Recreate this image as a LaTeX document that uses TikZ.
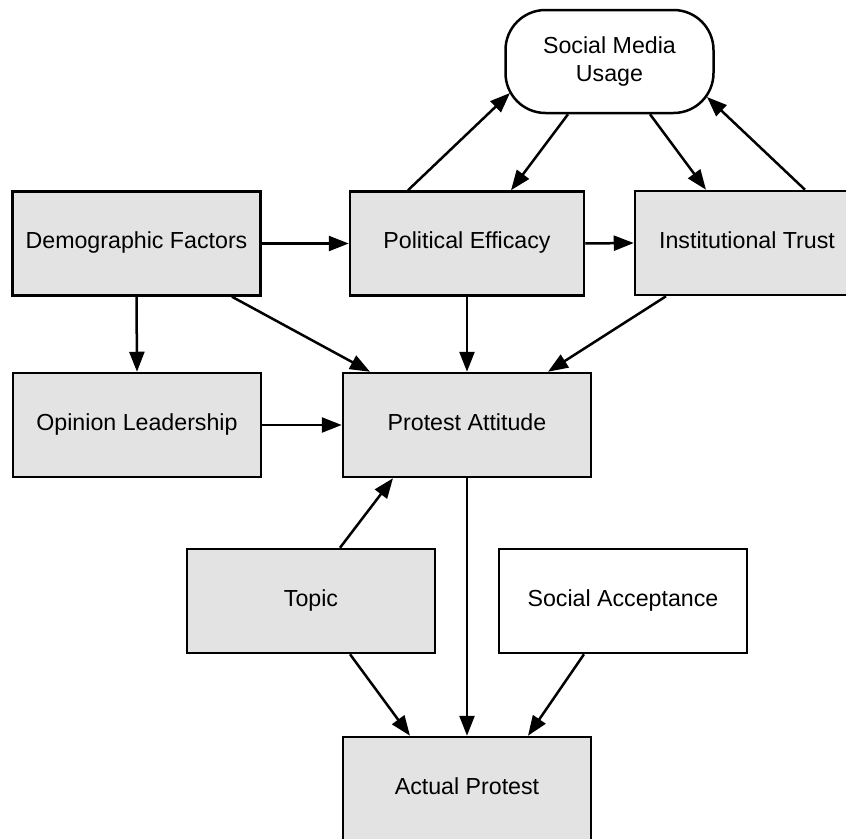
\documentclass[tikz,border=0pt]{standalone}
\usepackage{fontspec}
\setmainfont{Liberation Sans}
\usetikzlibrary{arrows.meta}
\begin{document}
\begin{tikzpicture}[x=1pt,y=-1pt,
  base/.style={draw=black,line width=2.5pt,inner sep=0pt,font=\fontsize{23.2}{28}\selectfont,align=center},
  box/.style={base,fill=black!11,minimum width=248pt,minimum height=104pt,text height=17pt,text depth=6.4pt},
  wbox/.style={box,fill=white},
  pill/.style={base,fill=white,rounded corners=40pt,minimum width=208pt,minimum height=103pt},
  arr/.style={line width=2.5pt,-{Triangle[length=20pt,width=15pt]}}]
\useasboundingbox (0,0) rectangle (846,838);
\clip (0,0) rectangle (846,838);
\node[pill] (smu) at (609.5,61.5) {Social Media\\Usage};
\node[box] (dem) at (136.5,243.5) {Demographic Factors};
\node[box,minimum width=234pt] (pe) at (467,243.5) {Political Efficacy};
\node[box,minimum width=224pt] (it) at (747,243) {Institutional Trust};
\node[box] (ol) at (137,425) {Opinion Leadership};
\node[box] (pa) at (467,425) {Protest Attitude};
\node[box] (tp) at (311,601) {Topic};
\node[wbox] (sa) at (623,601) {Social Acceptance};
\node[box] (ap) at (467,789) {Actual Protest};
% connectors
\draw[arr] (dem.east) -- (pe.west);
\draw[arr] (pe.east) -- (it.west);
\draw[arr] (dem.south) -- (ol.north);
\draw[arr] ([shift={(95.5,0)}]dem.south) -- ([shift={(-97,0)}]pa.north);
\draw[arr] (pe.south) -- (pa.north);
\draw[arr] ([shift={(-81,0)}]it.south) -- ([shift={(81,0)}]pa.north);
\draw[arr] (ol.east) -- (pa.west);
\draw[arr] ([shift={(29,0)}]tp.north) -- ([shift={(-74,0)}]pa.south);
\draw[arr] (pa.south) -- (ap.north);
\draw[arr] ([shift={(39,0)}]tp.south) -- ([shift={(-57,0)}]ap.north);
\draw[arr] ([shift={(-39,0)}]sa.south) -- ([shift={(61,0)}]ap.north);
\draw[arr] ([shift={(-41.5,0)}]smu.south) -- ([shift={(44,0)}]pe.north);
\draw[arr] ([shift={(-59,0)}]pe.north) -- ([shift={(-99.5,31.5)}]smu.center);
\draw[arr] ([shift={(40.5,0)}]smu.south) -- ([shift={(-41,0)}]it.north);
\draw[arr] ([shift={(58,0)}]it.north) -- ([shift={(97.5,35.5)}]smu.center);
\end{tikzpicture}
\end{document}
